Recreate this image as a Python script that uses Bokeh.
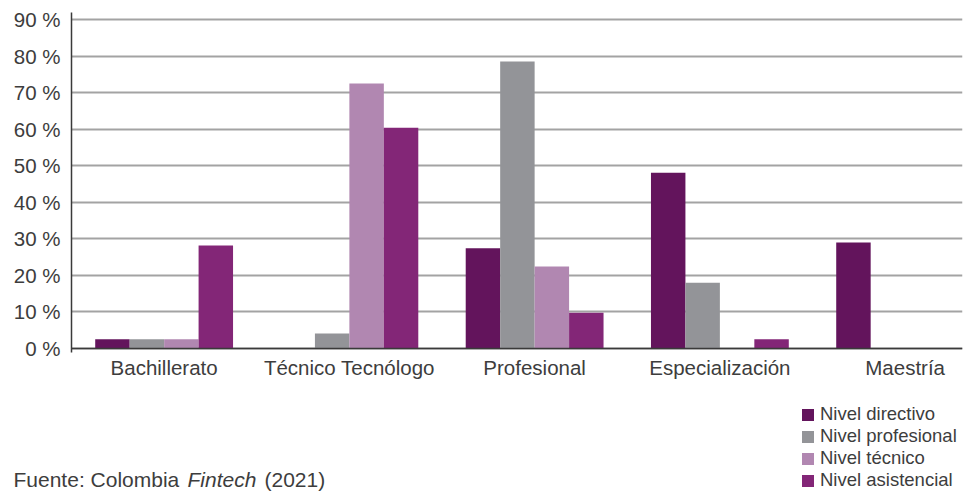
from bokeh.plotting import figure
from bokeh.models import ColumnDataSource, FixedTicker, Label, Range1d
from bokeh.transform import dodge
from bokeh.embed import file_html
from bokeh.resources import INLINE

categories = ["Bachillerato", "Técnico Tecnólogo", "Profesional", "Especialización", "Maestría"]
series_names = ["Nivel directivo", "Nivel profesional", "Nivel técnico", "Nivel asistencial"]
directivo = [2.5, 0.0, 27.4, 48.1, 29.0]
profesional = [2.5, 4.1, 78.5, 18.0, 0.0]
tecnico = [2.5, 72.5, 22.4, 0.0, 0.0]
asistencial = [28.2, 60.4, 9.8, 2.5, 0.0]
y_ticks = [0, 10, 20, 30, 40, 50, 60, 70, 80, 90]
y_tick_labels = [f"{t} %" for t in y_ticks]
colors = ["#63145c", "#939498", "#b187b1", "#832677"]
source_parts = ["Fuente: Colombia", "Fintech", "(2021)"]

FONT = "Liberation Sans"
TXT = "#3d3d3d"

X_END = 4.8097
xc = [i + 0.5 for i in range(len(categories))]
src = ColumnDataSource(dict(x=xc, d=directivo, p=profesional, t=tecnico, a=asistencial))

p = figure(width=966, height=491, output_backend="svg", toolbar_location=None,
           x_range=Range1d(-0.3833, X_END), y_range=Range1d(-39.12, 95.2),
           min_border_left=0, min_border_right=4, min_border_top=0, min_border_bottom=0,
           outline_line_color=None, background_fill_color="white", border_fill_color="white")

bw = 0.186
offs = [-1.5 * bw, -0.5 * bw, 0.5 * bw, 1.5 * bw]
for col, off, c, name in zip(["d", "p", "t", "a"], offs, colors, series_names):
    p.vbar(x=dodge("x", off, range=p.x_range), top=col, bottom=0, width=bw, source=src,
           fill_color=c, line_color=None, legend_label=name)

# axes (drawn inside the frame)
p.xaxis.fixed_location = 0
p.xaxis.bounds = (0, X_END)
p.xaxis.ticker = FixedTicker(ticks=xc)
p.xaxis.major_label_overrides = {x: c for x, c in zip(xc, categories)}
p.xaxis.axis_line_color = "#3a3a3a"
p.xaxis.axis_line_width = 1.5
p.xaxis.major_tick_line_color = None
p.xaxis.minor_tick_line_color = None
p.xaxis.major_label_standoff = 2
p.xaxis.major_label_text_font = FONT
p.xaxis.major_label_text_font_size = "20.5px"
p.xaxis.major_label_text_color = TXT

p.yaxis.fixed_location = 0
p.yaxis.bounds = (-1.1, 91.9)
p.yaxis.ticker = FixedTicker(ticks=y_ticks)
p.yaxis.major_label_overrides = {t: l for t, l in zip(y_ticks, y_tick_labels)}
p.yaxis.axis_line_color = "#3a3a3a"
p.yaxis.axis_line_width = 1.5
p.yaxis.major_tick_line_color = None
p.yaxis.minor_tick_line_color = None
p.yaxis.major_label_standoff = 5
p.yaxis.major_label_text_font = FONT
p.yaxis.major_label_text_font_size = "20.5px"
p.yaxis.major_label_text_color = TXT

p.xgrid.grid_line_color = None
p.ygrid.grid_line_color = "#a3a3a3"
p.ygrid.grid_line_width = 2
p.ygrid.cross_bounds = (0, X_END)

# legend
lg = p.legend[0]
lg.location = (800, 0)
lg.orientation = "vertical"
lg.border_line_color = None
lg.background_fill_alpha = 0
lg.padding = 0
lg.margin = 0
lg.spacing = 0
lg.label_height = 22
lg.glyph_height = 15
lg.glyph_width = 15
lg.label_standoff = 5
lg.label_text_font = FONT
lg.label_text_font_size = "18.5px"
lg.label_text_color = TXT

# footer
common = dict(x_units="screen", y_units="screen", y=12, text_font=FONT,
              text_font_size="21px", text_color=TXT, text_baseline="middle")
for xpos, txt, style in zip([13, 187, 264], source_parts, ["normal", "italic", "normal"]):
    p.add_layout(Label(x=xpos, text=txt, text_font_style=style, **common))

open("out.html", "w").write(file_html(p, INLINE))
